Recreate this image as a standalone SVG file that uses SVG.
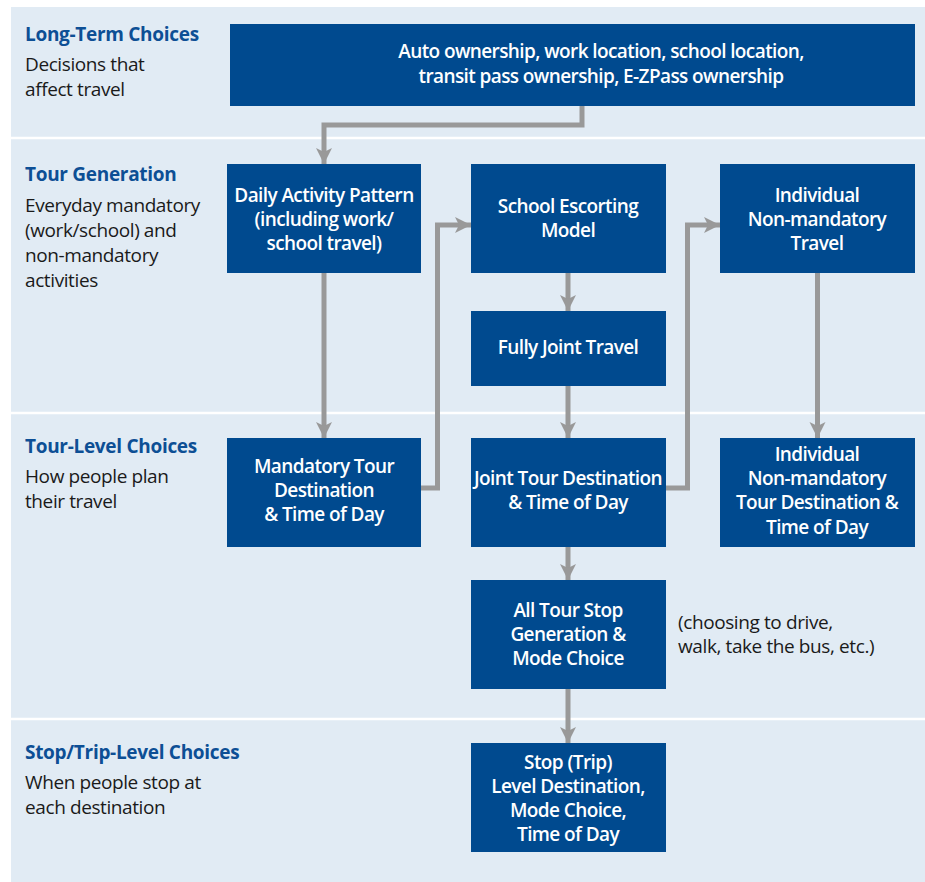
<svg xmlns="http://www.w3.org/2000/svg" width="925" height="882" viewBox="0 0 925 882">
<style>
.bg{fill:#e1ebf4}
.sep{stroke:#ffffff;stroke-width:2.5}
.box{fill:#004a8f}
.bt{fill:#ffffff;font-family:"Open Sans","Noto Sans",sans-serif;font-weight:600;font-size:19px;letter-spacing:-0.6px;text-anchor:middle}
.ht{fill:#0d4f95;font-family:"Open Sans","Noto Sans",sans-serif;font-weight:700;font-size:19px;letter-spacing:-0.3px}
.lt{fill:#1a1a1a;font-family:"Open Sans","Noto Sans",sans-serif;font-weight:400;font-size:19px;letter-spacing:-0.4px}
.cn{fill:none;stroke:#999999;stroke-width:5}
</style>
<defs>
<marker id="ah" markerUnits="userSpaceOnUse" markerWidth="18" markerHeight="18" viewBox="0 0 18 18" refX="16" refY="9" orient="auto">
<path d="M0,1 L16,9 L0,17 L4,9 Z" fill="#999999"/>
</marker>
</defs>
<rect class="bg" x="11" y="7" width="914" height="875"/>
<line class="sep" x1="11" y1="138" x2="925" y2="138"/>
<line class="sep" x1="11" y1="413" x2="925" y2="413"/>
<line class="sep" x1="11" y1="719" x2="925" y2="719"/>

<g id="band-labels">
<text class="ht" x="25" y="41">Long-Term Choices</text>
<text class="lt" x="25" y="71">Decisions that</text>
<text class="lt" x="25" y="96">affect travel</text>
<text class="ht" x="25" y="181">Tour Generation</text>
<text class="lt" x="25" y="212">Everyday mandatory</text>
<text class="lt" x="25" y="237">(work/school) and</text>
<text class="lt" x="25" y="262">non-mandatory</text>
<text class="lt" x="25" y="287">activities</text>
<text class="ht" x="25" y="453">Tour-Level Choices</text>
<text class="lt" x="25" y="483">How people plan</text>
<text class="lt" x="25" y="508">their travel</text>
<text class="ht" x="25" y="759">Stop/Trip-Level Choices</text>
<text class="lt" x="25" y="789">When people stop at</text>
<text class="lt" x="25" y="814">each destination</text>
</g>

<g id="connectors">
<polyline class="cn" points="582,106 582,125 324,125 324,164" marker-end="url(#ah)"/>
<polyline class="cn" points="324,273 324,438" marker-end="url(#ah)"/>
<polyline class="cn" points="421,488 437.5,488 437.5,225 471,225" marker-end="url(#ah)"/>
<polyline class="cn" points="568,273 568,311" marker-end="url(#ah)"/>
<polyline class="cn" points="568,386 568,438" marker-end="url(#ah)"/>
<polyline class="cn" points="666,488 687.5,488 687.5,225 720,225" marker-end="url(#ah)"/>
<polyline class="cn" points="817.5,273 817.5,438" marker-end="url(#ah)"/>
<polyline class="cn" points="568,547 568,580" marker-end="url(#ah)"/>
<polyline class="cn" points="568,689 568,743" marker-end="url(#ah)"/>
</g>

<g id="long-term">
<rect class="box" x="230" y="24" width="685" height="82"/>
<text class="bt" x="601" y="58">Auto ownership, work location, school location,</text>
<text class="bt" x="601" y="83">transit pass ownership, E-ZPass ownership</text>
</g>
<g id="daily-activity">
<rect class="box" x="227" y="164" width="194" height="109"/>
<text class="bt" x="324" y="202">Daily Activity Pattern</text>
<text class="bt" x="324" y="226">(including work/</text>
<text class="bt" x="324" y="250">school travel)</text>
</g>
<g id="school-escorting">
<rect class="box" x="471" y="164" width="195" height="109"/>
<text class="bt" x="568" y="213">School Escorting</text>
<text class="bt" x="568" y="237">Model</text>
</g>
<g id="indiv-nonmand">
<rect class="box" x="720" y="164" width="195" height="109"/>
<text class="bt" x="817" y="202">Individual</text>
<text class="bt" x="817" y="226">Non-mandatory</text>
<text class="bt" x="817" y="250">Travel</text>
</g>
<g id="fully-joint">
<rect class="box" x="471" y="311" width="195" height="75"/>
<text class="bt" x="568" y="354">Fully Joint Travel</text>
</g>
<g id="mandatory-tour">
<rect class="box" x="227" y="438" width="194" height="109"/>
<text class="bt" x="324" y="473">Mandatory Tour</text>
<text class="bt" x="324" y="497">Destination</text>
<text class="bt" x="324" y="521">&amp; Time of Day</text>
</g>
<g id="joint-tour">
<rect class="box" x="471" y="438" width="195" height="109"/>
<text class="bt" x="568" y="485">Joint Tour Destination</text>
<text class="bt" x="568" y="509">&amp; Time of Day</text>
</g>
<g id="indiv-tour">
<rect class="box" x="720" y="438" width="195" height="109"/>
<text class="bt" x="817" y="461">Individual</text>
<text class="bt" x="817" y="485">Non-mandatory</text>
<text class="bt" x="817" y="509">Tour Destination &amp;</text>
<text class="bt" x="817" y="534">Time of Day</text>
</g>
<g id="all-tour-stop">
<rect class="box" x="471" y="580" width="195" height="109"/>
<text class="bt" x="568" y="617">All Tour Stop</text>
<text class="bt" x="568" y="641">Generation &amp;</text>
<text class="bt" x="568" y="665">Mode Choice</text>
</g>
<g id="stop-trip">
<rect class="box" x="471" y="743" width="195" height="109"/>
<text class="bt" x="568" y="769">Stop (Trip)</text>
<text class="bt" x="568" y="793">Level Destination,</text>
<text class="bt" x="568" y="817">Mode Choice,</text>
<text class="bt" x="568" y="841">Time of Day</text>
</g>
<g id="annotation">
<text class="lt" x="678" y="629">(choosing to drive,</text>
<text class="lt" x="678" y="653">walk, take the bus, etc.)</text>
</g>
</svg>
